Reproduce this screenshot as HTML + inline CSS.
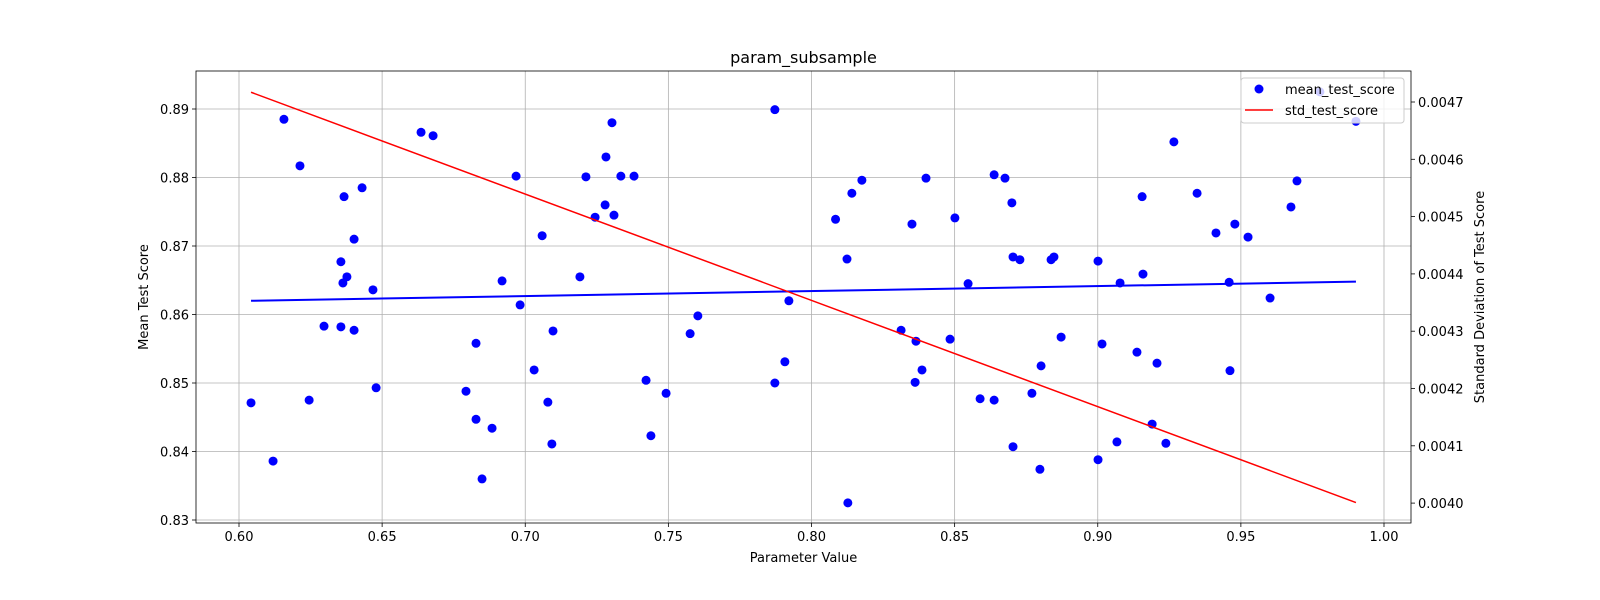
<!DOCTYPE html>
<html><head><meta charset="utf-8"><style>
html,body{margin:0;padding:0;background:#fff;overflow:hidden;width:100%;height:100%}
svg{display:block;width:100vw;height:100vh}
svg text{font-family:"DejaVu Sans","Liberation Sans",sans-serif}
</style></head><body>
<svg id="chart" viewBox="0 0 1600 600" preserveAspectRatio="none" xmlns="http://www.w3.org/2000/svg"></svg>
<script>
const xVals=[0.6042,0.6119,0.6157,0.6213,0.6245,0.6297,0.6356,0.6356,0.6363,0.6367,0.6377,0.6402,0.6402,0.6430,0.6468,0.6479,0.6636,0.6678,0.6793,0.6828,0.6828,0.6849,0.6884,0.6919,0.6968,0.6982,0.7031,0.7059,0.7079,0.7093,0.7097,0.7191,0.7212,0.7244,0.7279,0.7303,0.7282,0.7310,0.7334,0.7380,0.7422,0.7439,0.7492,0.7576,0.7603,0.7872,0.7872,0.7907,0.7921,0.8084,0.8124,0.8141,0.8127,0.8176,0.8313,0.8351,0.8365,0.8362,0.8386,0.8400,0.8484,0.8501,0.8547,0.8589,0.8638,0.8638,0.8676,0.8700,0.8704,0.8704,0.8728,0.8770,0.8802,0.8798,0.8837,0.8847,0.8872,0.9001,0.9001,0.9015,0.9067,0.9078,0.9137,0.9155,0.9158,0.9190,0.9207,0.9238,0.9266,0.9347,0.9413,0.9459,0.9462,0.9479,0.9525,0.9602,0.9675,0.9696,0.9776,0.9902];
const yVals=[0.8471,0.8386,0.8885,0.8817,0.8475,0.8583,0.8677,0.8582,0.8646,0.8772,0.8655,0.8710,0.8577,0.8785,0.8636,0.8493,0.8866,0.8861,0.8488,0.8558,0.8447,0.8360,0.8434,0.8649,0.8802,0.8614,0.8519,0.8715,0.8472,0.8411,0.8576,0.8655,0.8801,0.8742,0.8760,0.8880,0.8830,0.8745,0.8802,0.8802,0.8504,0.8423,0.8485,0.8572,0.8598,0.8899,0.8500,0.8531,0.8620,0.8739,0.8681,0.8777,0.8325,0.8796,0.8577,0.8732,0.8561,0.8501,0.8519,0.8799,0.8564,0.8741,0.8645,0.8477,0.8804,0.8475,0.8799,0.8763,0.8407,0.8684,0.8680,0.8485,0.8525,0.8374,0.8680,0.8684,0.8567,0.8678,0.8388,0.8557,0.8414,0.8646,0.8545,0.8772,0.8659,0.8440,0.8529,0.8412,0.8852,0.8777,0.8719,0.8647,0.8518,0.8732,0.8713,0.8624,0.8757,0.8795,0.8925,0.8882];
const trendX=[0.6042,0.9902];
const meanTrend=[0.8620,0.8648];
const stdTrend=[0.004717,0.004001];
const xTicks=[0.60,0.65,0.70,0.75,0.80,0.85,0.90,0.95,1.00];
const yTicks=[0.83,0.84,0.85,0.86,0.87,0.88,0.89];
const y2Ticks=[0.0040,0.0041,0.0042,0.0043,0.0044,0.0045,0.0046,0.0047];

const L=196,R=1411,T=71,B=523;
const sx=v=>239+(v-0.6)*2862.5;
const sy=v=>109+(0.89-v)*6850;
const sy2=v=>102+(0.0047-v)*573000;
const svg=document.getElementById('chart');
const NS='http://www.w3.org/2000/svg';
function mk(tag,attrs,parent){const e=document.createElementNS(NS,tag);for(const k in attrs)e.setAttribute(k,attrs[k]);(parent||svg).appendChild(e);return e;}

const grid=mk('g',{});


xTicks.forEach(t=>{const x=sx(t);
 mk('line',{x1:x,x2:x,y1:T,y2:B,stroke:'#b0b0b0','stroke-width':0.8},grid);
 mk('line',{x1:x,x2:x,y1:B,y2:B+4,stroke:'#000','stroke-width':0.8});
 const tx=mk('text',{x:x,y:B+18,'font-size':13,'text-anchor':'middle'});tx.textContent=t.toFixed(2);
 
 
});
yTicks.forEach(t=>{const y=sy(t);
 mk('line',{x1:L,x2:R,y1:y,y2:y,stroke:'#b0b0b0','stroke-width':0.8},grid);
 mk('line',{x1:L-4,x2:L,y1:y,y2:y,stroke:'#000','stroke-width':0.8});
 const tx=mk('text',{x:L-7,y:y+5,'font-size':13,'text-anchor':'end'});tx.textContent=t.toFixed(2);
 
 
});
y2Ticks.forEach(t=>{const y=sy2(t);
 mk('line',{x1:R,x2:R+4,y1:y,y2:y,stroke:'#000','stroke-width':0.8});
 const tx=mk('text',{x:R+7,y:y+5,'font-size':13});tx.textContent=t.toFixed(4);
 
 
});
const pts=mk('g',{fill:'#0000ff'});


xVals.forEach((v,i)=>{const c=mk('circle',{cx:sx(v),cy:sy(yVals[i]),r:4.5},pts);
 
 
});
const bl=mk('line',{x1:sx(trendX[0]),y1:sy(meanTrend[0]),x2:sx(trendX[1]),y2:sy(meanTrend[1]),stroke:'#0000ff','stroke-width':2});


const rl=mk('line',{x1:sx(trendX[0]),y1:sy2(stdTrend[0]),x2:sx(trendX[1]),y2:sy2(stdTrend[1]),stroke:'#ff0000','stroke-width':1.5});


const frame=mk('rect',{x:L,y:T,width:R-L,height:B-T,fill:'none',stroke:'#000','stroke-width':0.8});


function txt(s,a,name){const e=mk('text',a);e.textContent=s;return e;}
txt('param_subsample',{x:(L+R)/2,y:63,'font-size':16,'text-anchor':'middle'},'chart-title');
txt('Parameter Value',{x:(L+R)/2,y:562,'font-size':13,'text-anchor':'middle'},'x-axis-title');
txt('Mean Test Score',{x:0,y:0,'font-size':13,'text-anchor':'middle',transform:'translate(148,297) rotate(-90)'},'y-axis-title');
txt('Standard Deviation of Test Score',{x:0,y:0,'font-size':13,'text-anchor':'middle',transform:'translate(1484,297) rotate(-90)'},'y2-axis-title');
const lg=mk('g',{});


mk('rect',{x:1241,y:78,width:163,height:45,rx:3,fill:'#fff','fill-opacity':0.8,stroke:'#ccc'},lg);
mk('circle',{cx:1259,cy:89,r:4.5,fill:'#0000ff'},lg);
mk('line',{x1:1245,x2:1273,y1:110,y2:110,stroke:'#ff0000','stroke-width':1.5},lg);
const l1=mk('text',{x:1285,y:94,'font-size':13},lg);l1.textContent='mean_test_score';


const l2=mk('text',{x:1285,y:115,'font-size':13},lg);l2.textContent='std_test_score';


</script>
</body></html>
